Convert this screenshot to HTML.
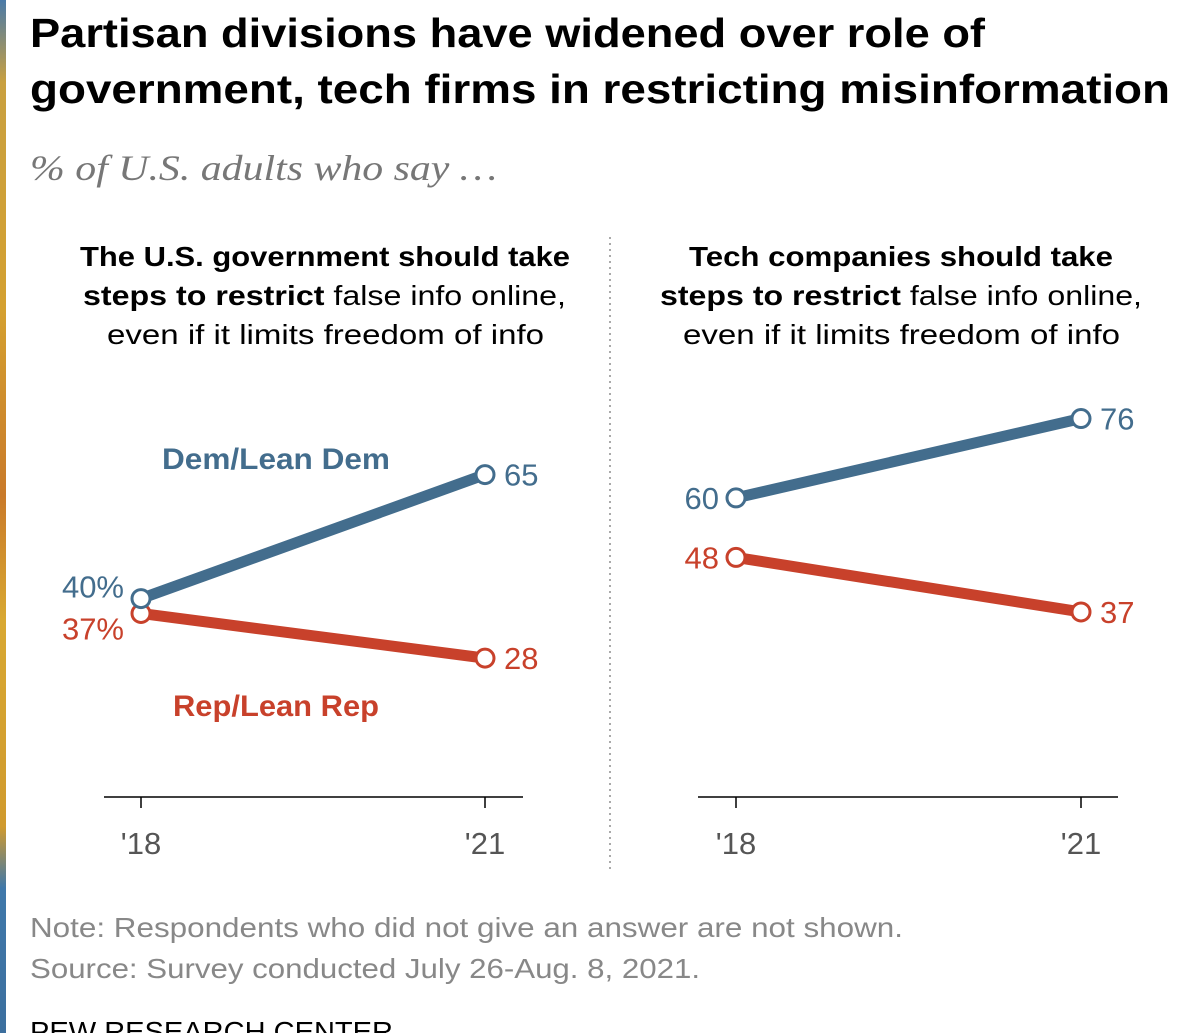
<!DOCTYPE html>
<html><head><meta charset="utf-8"><style>
body{margin:0;width:1200px;height:1033px;overflow:hidden;background:#fff;font-family:"Liberation Sans",sans-serif;}
#strip{position:absolute;left:0;top:0;width:6px;height:1033px;background:linear-gradient(#4a7aa8 0%,#c9a040 8%,#d4a030 30%,#c97a2a 48%,#d8a832 60%,#d09a2e 80%,#3f78aa 86%,#3c6f9e 100%);}
</style></head><body>
<div id="strip"></div>
<svg width="1200" height="1033" style="position:absolute;left:0;top:0">
<text x="30" y="47" font-size="41" font-weight="bold" fill="#000" textLength="955" lengthAdjust="spacingAndGlyphs">Partisan divisions have widened over role of</text>
<text x="30" y="103" font-size="41" font-weight="bold" fill="#000" textLength="1140" lengthAdjust="spacingAndGlyphs">government, tech firms in restricting misinformation</text>
<text x="30" y="180" font-size="36" font-style="italic" fill="#777" font-family="Liberation Serif, serif" textLength="467" lengthAdjust="spacingAndGlyphs">% of U.S. adults who say …</text>
<g font-size="28" fill="#000">
<text x="80" y="266" font-weight="bold" textLength="490" lengthAdjust="spacingAndGlyphs">The U.S. government should take</text>
<text x="83" y="305" textLength="483" lengthAdjust="spacingAndGlyphs"><tspan font-weight="bold">steps to restrict</tspan> false info online,</text>
<text x="107" y="344" textLength="437" lengthAdjust="spacingAndGlyphs">even if it limits freedom of info</text>
</g>
<g font-size="28" fill="#000">
<text x="689" y="266" font-weight="bold" textLength="424" lengthAdjust="spacingAndGlyphs">Tech companies should take</text>
<text x="660" y="305" textLength="482" lengthAdjust="spacingAndGlyphs"><tspan font-weight="bold">steps to restrict</tspan> false info online,</text>
<text x="683" y="344" textLength="437" lengthAdjust="spacingAndGlyphs">even if it limits freedom of info</text>
</g>
<line x1="610" y1="237" x2="610" y2="872" stroke="#aaa" stroke-width="2" stroke-dasharray="2,4"/>
<g id="plots"></g>
<text x="30" y="937" font-size="28" fill="#888" textLength="873" lengthAdjust="spacingAndGlyphs">Note: Respondents who did not give an answer are not shown.</text>
<text x="30" y="978" font-size="28" fill="#888" textLength="670" lengthAdjust="spacingAndGlyphs">Source: Survey conducted July 26-Aug. 8, 2021.</text>
<text x="30" y="1041" font-size="28" fill="#000" textLength="363" lengthAdjust="spacingAndGlyphs">PEW RESEARCH CENTER</text>
</svg>
<script>
const years = ["'18","'21"];
const govDem = [40,65];
const govRep = [37,28];
const techDem = [60,76];
const techRep = [48,37];
const BLUE="#436d8d", RED="#c8412b";
const NS="http://www.w3.org/2000/svg";
const g=document.getElementById('plots');
function mk(tag,attrs,parent){const e=document.createElementNS(NS,tag);for(const k in attrs)e.setAttribute(k,attrs[k]);(parent||g).appendChild(e);return e;}
function panel(x0,x1,ax0,ax1,base,dem,rep,pct,prefix){
  const xs=i=>i===0?x0:x1;
  const ys=v=>base-v*4.96;
  const ax=mk('line',{x1:ax0,x2:ax1,y1:797,y2:797,stroke:'#000','stroke-width':1.5});
  
  
  years.forEach((y,i)=>{
    const t=mk('line',{x1:xs(i),x2:xs(i),y1:797,y2:808,stroke:'#000','stroke-width':1.5});
    
    
    const l=mk('text',{x:xs(i),y:854,'font-size':31,'text-anchor':'middle',fill:'#555'});
    l.textContent=y;
    
    
  });
  [[rep,RED,'rep'],[dem,BLUE,'dem']].forEach(([s,c,n])=>{
    const ln=mk('line',{x1:xs(0),y1:ys(s[0]),x2:xs(1),y2:ys(s[1]),stroke:c,'stroke-width':11});
    
    
  });
  [[rep,RED,'rep',1],[dem,BLUE,'dem',-1]].forEach(([s,c,n,d])=>{
    s.forEach((v,i)=>{
      const p=mk('circle',{cx:xs(i),cy:ys(v),r:9,fill:'#fff',stroke:c,'stroke-width':3});
      
      
      const lab=mk('text',{'font-size':31,fill:c});
      if(i===0){lab.setAttribute('x',xs(i)-17);lab.setAttribute('text-anchor','end');
        lab.setAttribute('y',ys(v)+(pct?(d>0?26:-1):11));}
      else{lab.setAttribute('x',xs(i)+19);lab.setAttribute('y',ys(v)+11);}
      lab.textContent=v+(pct&&i===0?'%':'');
      
      
    });
  });
}
panel(141,485,104,523,797,govDem,govRep,true,'gov');
panel(736,1081,698,1118,795.5,techDem,techRep,false,'tech');
const dl=mk('text',{x:162,y:469,'font-size':30,'font-weight':'bold',fill:BLUE,textLength:228,lengthAdjust:'spacingAndGlyphs'});
dl.textContent='Dem/Lean Dem';


const rl=mk('text',{x:173,y:716,'font-size':30,'font-weight':'bold',fill:RED,textLength:206,lengthAdjust:'spacingAndGlyphs'});
rl.textContent='Rep/Lean Rep';


</script>
</body></html>
